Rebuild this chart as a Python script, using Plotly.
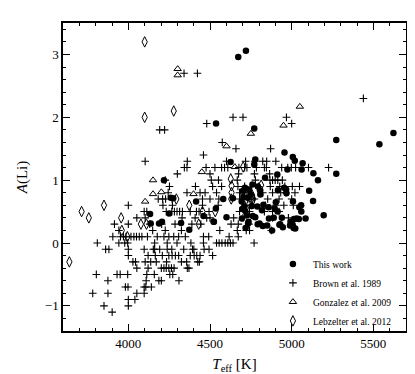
import plotly.graph_objects as go

# This work (filled circles)
this_teff = [4673, 4720, 4537, 4771, 5273, 5537, 5623, 5273, 4956, 5007, 5019, 5067,
             5061, 4974, 5133, 5161, 5107, 5131, 5085, 5196, 4626, 4777, 4771, 4912,
             4837, 4954, 4916, 4968, 4714, 4702, 4750, 4793, 4581, 4694, 4827, 4896,
             5008, 5047, 4524, 4601, 4697, 4695, 4736, 4718, 4777, 4803, 4861, 4880,
             4914, 4930, 4993, 5006, 5022, 5030, 5059, 4218, 4133, 4250, 4137, 4188,
             4206, 4260, 4275, 4323, 4373, 4415, 4460, 4536, 4522, 4710, 4716, 4730,
             4756, 4790, 4818, 4792, 4823, 4940, 4925, 4946, 5014, 5044, 5058, 4903,
             4859, 4740, 4806, 4760, 4966, 4990, 5012, 4762, 4733, 4704, 4727, 4890,
             4850, 4808, 4640]
this_ali = [2.96, 3.06, 1.90, 1.82, 1.64, 1.57, 1.75, 1.10, 1.44, 1.37, 1.31, 1.27,
            1.17, 1.17, 1.11, 1.00, 0.83, 0.67, 0.39, 0.44, 1.29, 1.33, 1.25, 1.09,
            1.04, 0.88, 0.84, 0.79, 0.88, 0.83, 0.77, 0.90, 0.70, 0.66, 0.61, 0.55,
            0.66, 0.57, 0.34, 0.41, 0.54, 0.39, 0.34, 0.24, 0.41, 0.31, 0.39, 0.20,
            0.50, 0.30, 0.34, 0.29, 0.23, 0.39, 0.50, 1.00, 0.46, 0.47, 0.31, 0.31,
            0.34, 0.72, 0.71, 0.32, 0.21, 0.66, 0.43, 0.55, 0.34, 0.58, 0.51, 0.72,
            0.59, 0.58, 0.52, 0.30, 0.27, 0.40, 0.29, 0.25, 0.38, 0.38, 0.60, 0.65,
            0.57, 0.85, 0.84, 0.93, 0.85, 0.28, 0.24, 0.43, 0.31, 0.73, 0.44, 0.40,
            0.28, 0.77, 0.71]

# Brown et al. 1989 (plus signs)
brown_teff = [4341, 4423, 5439, 4641, 4702, 4968, 4480, 5000, 4192, 4222, 4575, 4659,
              4871, 4460,
              4103, 4361, 4601, 4718, 4774, 4823, 4847, 4903,
              4343, 4359, 4476, 4530, 4571, 4589, 4609, 4677, 4712, 4726, 4784, 4833,
              4845, 4939, 4976, 4998, 5024, 5103, 5226,
              4300, 4500, 4675, 4772, 4865,
              4226, 4552, 4667, 4778, 4867, 4883, 4899, 4915, 4943, 4508,
              4252, 4411, 4516, 4571, 4671, 4712, 4798, 4869, 4927, 4958, 5004, 5048,
              4244, 4359, 4439, 4470, 4540, 4681, 4726, 4823, 4883, 4933, 4964, 5020,
              4183, 4210, 4228, 4268, 4454, 4500, 4554, 4681, 4732, 4772, 4853, 4923, 5000,
              4000, 4212, 4270, 4454, 4550, 4716, 4756, 4839, 4903, 4952, 5010,
              4097, 4113, 4232, 4266, 4282, 4298, 4314, 4331, 4379, 4417, 4433, 4494,
              4681, 4742, 4833, 4883, 4923,
              4052, 4103, 4329, 4409, 4480, 4500, 4645, 4702, 4883, 4980,
              3915, 4000, 4131, 4204, 4286, 4389, 4444, 4629, 4673, 4738,
              3942, 4149, 4226, 4325, 4560, 4667, 4722, 4742, 4875,
              3905, 3952, 3970, 3986, 4016, 4034, 4050, 4067, 4083, 4117, 4177, 4218,
              4248, 4278, 4308, 4349, 4460, 4492, 4617, 4673,
              3810, 3942, 3978, 3996, 4161, 4238, 4298, 4383, 4460, 4540, 4556, 4573,
              4593, 4609, 4625, 4641, 4770,
              3861, 3881, 4000, 4097, 4153, 4161, 4192, 4238, 4266, 4339, 4393, 4401,
              4464, 4494,
              4000, 4121, 4165, 4208, 4248, 4268, 4288, 4308, 4379, 4403, 4419, 4439, 4516,
              4028, 4044, 4103, 4137, 4171, 4234, 4325, 4357, 4425, 4435,
              4052, 4121, 4202, 4218, 4232, 4248, 4264, 4280, 4361, 4371,
              3804, 3931, 3950, 3996, 4113, 4159, 4254, 4272,
              3875, 4109, 4187, 4202, 4310,
              3982, 3998, 4097, 4107, 4141,
              3782, 3875, 4052, 4097,
              4000, 4040,
              3851, 4000,
              3901]
brown_ali = ([2.7, 2.7, 2.3, 2.0, 2.0, 2.0, 1.9, 1.9, 1.8, 1.8, 1.6, 1.5, 1.5, 1.4]
             + [1.3] * 8 + [1.2] * 19 + [1.1] * 5 + [1.0] * 10 + [0.9] * 12
             + [0.8] * 12 + [0.7] * 13 + [0.6] * 11 + [0.5] * 17 + [0.4] * 10
             + [0.3] * 10 + [0.2] * 9 + [0.1] * 20 + [0.0] * 17 + [-0.1] * 14
             + [-0.2] * 13 + [-0.3] * 10 + [-0.4] * 10 + [-0.5] * 8 + [-0.6] * 5
             + [-0.7] * 5 + [-0.8] * 4 + [-0.9] * 2 + [-1.0] * 2 + [-1.1])

# Gonzalez et al. 2009 (open triangles)
gonz_teff = [4302, 4302, 5050, 4950, 4750, 4601, 4652, 4450, 4151, 4151, 4202, 4103, 4399]
gonz_ali = [2.77, 2.67, 2.17, 1.87, 1.74, 1.54, 1.21, 1.13, 1.00, 0.78, 0.81, 0.66, 0.78]

# Lebzelter et al. 2012 (open diamonds)
lebz_teff = [4100, 4100, 4278, 3639, 3714, 3758, 3851, 3956, 3960, 3994, 4077, 4111,
             4294, 4373, 4431, 4454, 4532, 4627, 4632, 4632, 4630, 4703, 4752, 4740,
             4765, 4758, 4813, 4700]
lebz_ali = [3.20, 2.00, 2.10, -0.30, 0.50, 0.40, 0.60, 0.40, 0.20, 0.10, 0.30, 0.30,
            0.70, 0.60, 0.30, 0.50, 0.50, 1.02, 0.91, 0.80, 0.70, 1.21, 0.69, 0.62,
            0.70, 0.76, 0.92, 0.80]

FONT = "Liberation Serif"

fig = go.Figure()
fig.add_trace(go.Scatter(x=this_teff, y=this_ali, mode="markers", name="This work",
                         marker=dict(symbol="circle", size=6.5, color="black")))
fig.add_trace(go.Scatter(x=brown_teff, y=brown_ali, mode="markers", name="Brown et al. 1989",
                         marker=dict(symbol="cross-thin-open", size=5.5, color="black",
                                     line=dict(color="black", width=1.1))))
fig.add_trace(go.Scatter(x=gonz_teff, y=gonz_ali, mode="markers", name="Gonzalez et al. 2009",
                         marker=dict(symbol="triangle-up-open", size=6.5, color="black",
                                     line=dict(color="black", width=1))))
fig.add_trace(go.Scatter(x=lebz_teff, y=lebz_ali, mode="markers", name="Lebzelter et al. 2012",
                         marker=dict(symbol="diamond-tall-open", size=7.5, color="black",
                                     line=dict(color="black", width=1))))

axis_common = dict(
    showline=True, linecolor="black", linewidth=1.5, mirror="allticks",
    ticks="inside", ticklen=7, tickwidth=1, tickcolor="black",
    showgrid=False, zeroline=False,
    tickfont=dict(family=FONT, size=13, color="black"),
)

fig.update_xaxes(range=[3600, 5700], tickvals=[4000, 4500, 5000, 5500],
                 minor=dict(dtick=100, ticks="inside", ticklen=3.5, tickcolor="black"),
                 title=dict(text="<i>T</i><sub>eff</sub> [K]", standoff=8,
                            font=dict(family=FONT, size=15, color="black")),
                 **axis_common)
fig.update_yaxes(range=[-1.4, 3.5], tickvals=[-1, 0, 1, 2, 3], ticktext=["\u22121", "0", "1", "2", "3"],
                 minor=dict(dtick=0.2, tick0=0, ticks="inside", ticklen=3.5, tickcolor="black"),
                 title=dict(text="<i>A</i>(Li)", standoff=14,
                            font=dict(family=FONT, size=15, color="black")),
                 **axis_common)

fig.update_layout(
    width=415, height=374,
    margin=dict(l=52, r=17, t=15, b=46),
    paper_bgcolor="white", plot_bgcolor="white",
    legend=dict(x=0.612, y=0.265, xanchor="left", yanchor="top",
                bgcolor="rgba(0,0,0,0)", font=dict(family=FONT, size=9.5, color="black"),
                tracegroupgap=0),
    showlegend=True,
)

fig.write_html("out.html")
